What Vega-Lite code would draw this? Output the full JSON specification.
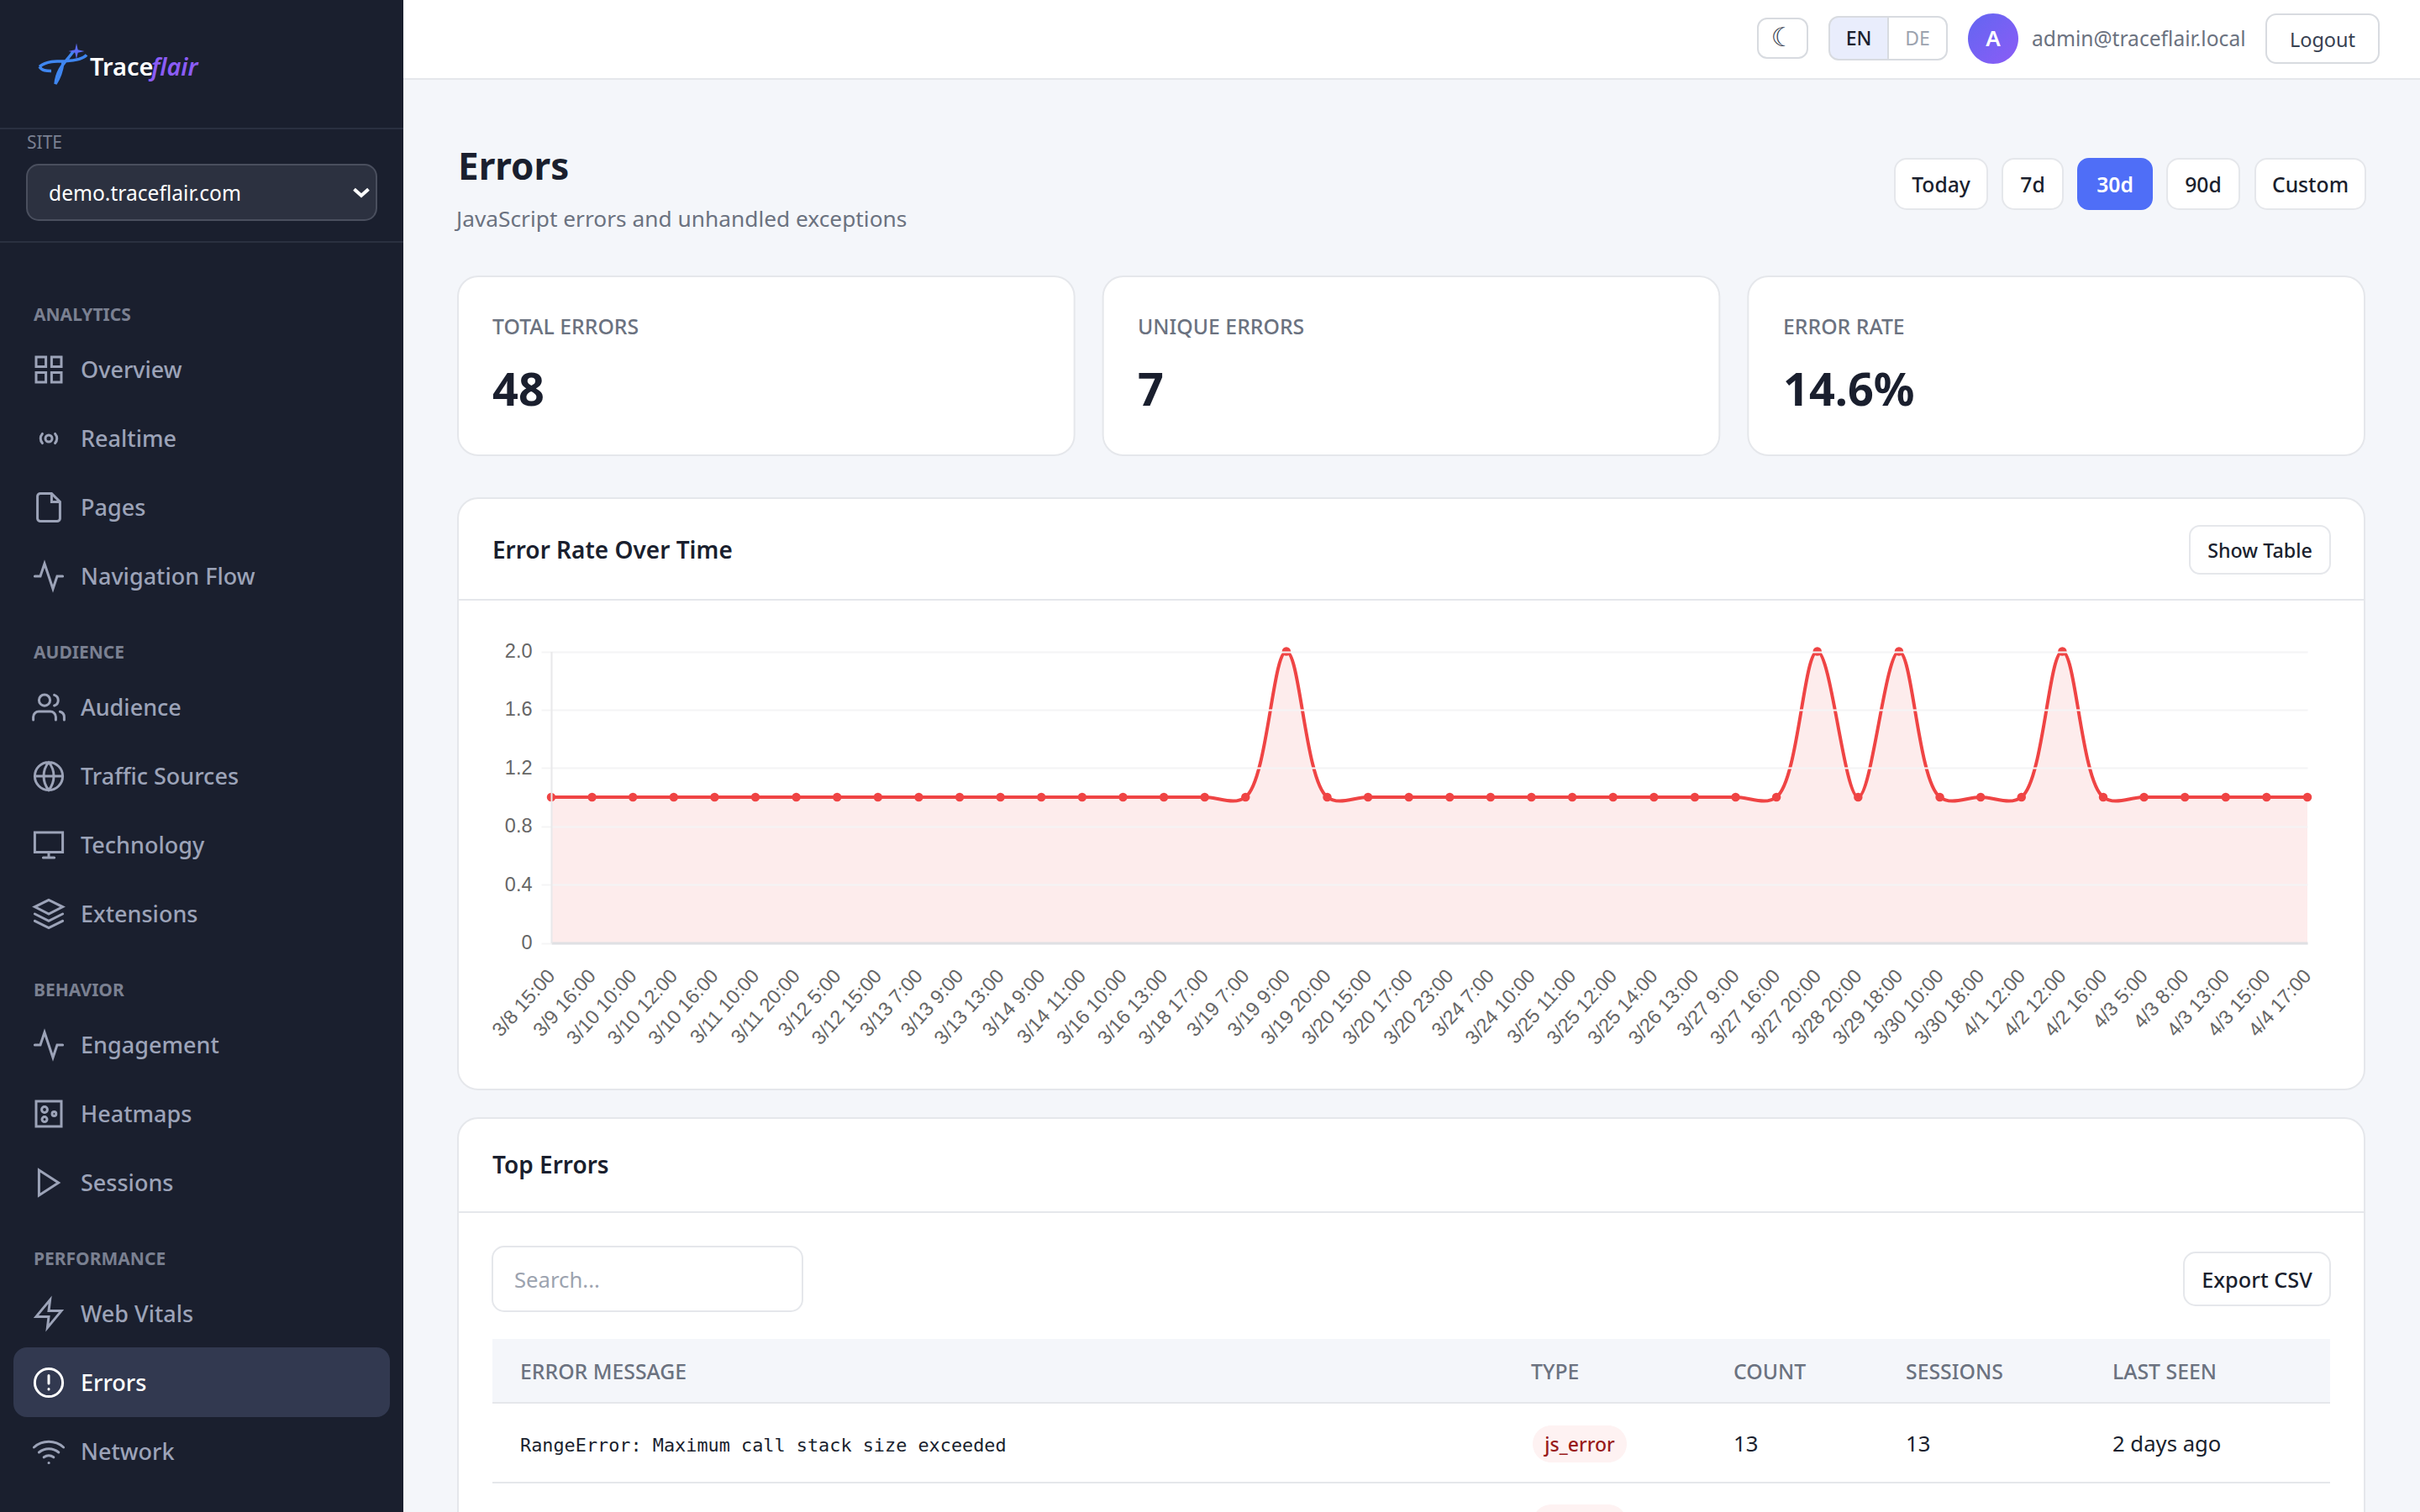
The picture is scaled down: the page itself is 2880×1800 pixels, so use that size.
{
  "$schema": "https://vega.github.io/schema/vega-lite/v6.json",
  "width": 2880,
  "height": 1800,
  "autosize": {"type": "fit", "contains": "padding"},
  "padding": 0,
  "background": "#f4f6fa",
  "config": {"view": {"stroke": null}, "font": "Noto Sans"},
  "datasets": {
    "menu": [
      {"section": "analytics", "menu": "Overview"},
      {"section": "analytics", "menu": "Realtime"},
      {"section": "analytics", "menu": "Pages"},
      {"section": "analytics", "menu": "Navigation Flow"},
      {"section": "audience", "menu": "Audience"},
      {"section": "audience", "menu": "Traffic Sources"},
      {"section": "audience", "menu": "Technology"},
      {"section": "audience", "menu": "Extensions"},
      {"section": "behavior", "menu": "Engagement"},
      {"section": "behavior", "menu": "Heatmaps"},
      {"section": "behavior", "menu": "Sessions"},
      {"section": "performance", "menu": "Web Vitals"},
      {"section": "performance", "menu": "Errors"},
      {"section": "performance", "menu": "Network"}
    ],
    "series": [
      {"time": "3/8 15:00", "errors": 1}, {"time": "3/9 16:00", "errors": 1}, {"time": "3/10 10:00", "errors": 1},
      {"time": "3/10 12:00", "errors": 1}, {"time": "3/10 16:00", "errors": 1}, {"time": "3/11 10:00", "errors": 1},
      {"time": "3/11 20:00", "errors": 1}, {"time": "3/12 5:00", "errors": 1}, {"time": "3/12 15:00", "errors": 1},
      {"time": "3/13 7:00", "errors": 1}, {"time": "3/13 9:00", "errors": 1}, {"time": "3/13 13:00", "errors": 1},
      {"time": "3/14 9:00", "errors": 1}, {"time": "3/14 11:00", "errors": 1}, {"time": "3/16 10:00", "errors": 1},
      {"time": "3/16 13:00", "errors": 1}, {"time": "3/18 17:00", "errors": 1}, {"time": "3/19 7:00", "errors": 1},
      {"time": "3/19 9:00", "errors": 2}, {"time": "3/19 20:00", "errors": 1}, {"time": "3/20 15:00", "errors": 1},
      {"time": "3/20 17:00", "errors": 1}, {"time": "3/20 23:00", "errors": 1}, {"time": "3/24 7:00", "errors": 1},
      {"time": "3/24 10:00", "errors": 1}, {"time": "3/25 11:00", "errors": 1}, {"time": "3/25 12:00", "errors": 1},
      {"time": "3/25 14:00", "errors": 1}, {"time": "3/26 13:00", "errors": 1}, {"time": "3/27 9:00", "errors": 1},
      {"time": "3/27 16:00", "errors": 1}, {"time": "3/27 20:00", "errors": 2}, {"time": "3/28 20:00", "errors": 1},
      {"time": "3/29 18:00", "errors": 2}, {"time": "3/30 10:00", "errors": 1}, {"time": "3/30 18:00", "errors": 1},
      {"time": "4/1 12:00", "errors": 1}, {"time": "4/2 12:00", "errors": 2}, {"time": "4/2 16:00", "errors": 1},
      {"time": "4/3 5:00", "errors": 1}, {"time": "4/3 8:00", "errors": 1}, {"time": "4/3 13:00", "errors": 1},
      {"time": "4/3 15:00", "errors": 1}, {"time": "4/4 17:00", "errors": 1}
    ]
  },
  "resolve": {"scale": {"x": "independent", "y": "independent", "shape": "independent"}},
  "layer": [
    {"data": {"values": [{"k": "sidebar"}]}, "mark": {"type": "rect", "fill": "#1a1f2e"},
      "encoding": {"x": {"field": "k", "type": "nominal", "axis": null, "scale": {"type": "band", "padding": 0, "range": [0, 480]}}, "y": {"field": "k", "type": "nominal", "axis": null, "scale": {"type": "band", "padding": 0, "range": [0, 1800]}}}},
    {"data": {"values": [{"k": "a"}]}, "mark": {"type": "rect", "fill": "#2a3040"},
      "encoding": {"x": {"field": "k", "type": "nominal", "axis": null, "scale": {"type": "band", "padding": 0, "range": [0, 480]}}, "y": {"field": "k", "type": "nominal", "axis": null, "scale": {"type": "band", "padding": 0, "range": [152, 154]}}}},
    {"data": {"values": [{"k": "b"}]}, "mark": {"type": "rect", "fill": "#2a3040"},
      "encoding": {"x": {"field": "k", "type": "nominal", "axis": null, "scale": {"type": "band", "padding": 0, "range": [0, 480]}}, "y": {"field": "k", "type": "nominal", "axis": null, "scale": {"type": "band", "padding": 0, "range": [287, 289]}}}},
    {"data": {"values": [{"k": "active"}]}, "mark": {"type": "rect", "fill": "#323950", "cornerRadius": 16},
      "encoding": {"x": {"field": "k", "type": "nominal", "axis": null, "scale": {"type": "band", "padding": 0, "range": [16, 464]}}, "y": {"field": "k", "type": "nominal", "axis": null, "scale": {"type": "band", "padding": 0, "range": [1604, 1687]}}}},
    {"data": {"values": [{"k": "logo"}]}, "mark": {"type": "point", "filled": false, "size": 3136, "strokeWidth": 3.5, "opacity": 1, "color": "#3f86f0", "shape": "M-1 .12C-.7-.12-.3-.12 .1-.12 .5-.14 .85-.2 1-.38M-1 .12C-.9 .3-.7 .3-.5 .3M.45-.55C.15-.1-.25 .15-.32 .85-.15 .6-.05 .3 0-.05"},
      "encoding": {"x": {"field": "k", "type": "nominal", "axis": null, "scale": {"type": "point", "range": [75, 75]}}, "y": {"field": "k", "type": "nominal", "axis": null, "scale": {"type": "point", "range": [76, 76]}}}},
    {"data": {"values": [{"k": "star"}]}, "mark": {"type": "point", "filled": true, "size": 360, "opacity": 1, "color": "#5b6cf5", "shape": "M0-1L.18-.18L1 0L.18 .18L0 1L-.18 .18L-1 0L-.18-.18Z"},
      "encoding": {"x": {"field": "k", "type": "nominal", "axis": null, "scale": {"type": "point", "range": [91, 91]}}, "y": {"field": "k", "type": "nominal", "axis": null, "scale": {"type": "point", "range": [61, 61]}}}},
    {"data": {"values": [{"t": "Trace"}]}, "mark": {"type": "text", "align": "left", "fontSize": 29, "fontWeight": 600, "color": "#ffffff"},
      "encoding": {"text": {"field": "t"}, "x": {"field": "t", "type": "nominal", "axis": null, "scale": {"type": "point", "range": [107, 107]}}, "y": {"field": "t", "type": "nominal", "axis": null, "scale": {"type": "point", "range": [81, 81]}}}},
    {"data": {"values": [{"t": "flair"}]}, "mark": {"type": "text", "align": "left", "fontSize": 29, "fontWeight": 600, "fontStyle": "italic", "color": "#8b5cf6"},
      "encoding": {"text": {"field": "t"}, "x": {"field": "t", "type": "nominal", "axis": null, "scale": {"type": "point", "range": [180, 180]}}, "y": {"field": "t", "type": "nominal", "axis": null, "scale": {"type": "point", "range": [81, 81]}}}},
    {"data": {"values": [{"t": "SITE"}]}, "mark": {"type": "text", "align": "left", "fontSize": 21, "color": "#7a8091"},
      "encoding": {"text": {"field": "t"}, "x": {"field": "t", "type": "nominal", "axis": null, "scale": {"type": "point", "range": [32, 32]}}, "y": {"field": "t", "type": "nominal", "axis": null, "scale": {"type": "point", "range": [171, 171]}}}},
    {"data": {"values": [{"k": "select"}]}, "mark": {"type": "rect", "fill": "#2c3140", "stroke": "#4a4f5e", "strokeWidth": 2, "cornerRadius": 14},
      "encoding": {"x": {"field": "k", "type": "nominal", "axis": null, "scale": {"type": "band", "padding": 0, "range": [32, 448]}}, "y": {"field": "k", "type": "nominal", "axis": null, "scale": {"type": "band", "padding": 0, "range": [196, 262]}}}},
    {"data": {"values": [{"t": "demo.traceflair.com"}]}, "mark": {"type": "text", "align": "left", "fontSize": 24.6, "color": "#ffffff"},
      "encoding": {"text": {"field": "t"}, "x": {"field": "t", "type": "nominal", "axis": null, "scale": {"type": "point", "range": [58, 58]}}, "y": {"field": "t", "type": "nominal", "axis": null, "scale": {"type": "point", "range": [232, 232]}}}},
    {"data": {"values": [{"k": "chevron"}]}, "mark": {"type": "point", "filled": false, "size": 289, "strokeWidth": 4, "opacity": 1, "color": "#ffffff", "shape": "M-1-.45L0 .45L1-.45"},
      "encoding": {"x": {"field": "k", "type": "nominal", "axis": null, "scale": {"type": "point", "range": [430, 430]}}, "y": {"field": "k", "type": "nominal", "axis": null, "scale": {"type": "point", "range": [229, 229]}}}},
    {"data": {"values": [{"t": "ANALYTICS"}]}, "mark": {"type": "text", "align": "left", "fontSize": 21, "fontWeight": 700, "color": "#7a8091"},
      "encoding": {"text": {"field": "t"}, "x": {"field": "t", "type": "nominal", "axis": null, "scale": {"type": "point", "range": [40, 40]}}, "y": {"field": "t", "type": "nominal", "axis": null, "scale": {"type": "point", "range": [376, 376]}}}},
    {"data": {"values": [{"t": "AUDIENCE"}]}, "mark": {"type": "text", "align": "left", "fontSize": 21, "fontWeight": 700, "color": "#7a8091"},
      "encoding": {"text": {"field": "t"}, "x": {"field": "t", "type": "nominal", "axis": null, "scale": {"type": "point", "range": [40, 40]}}, "y": {"field": "t", "type": "nominal", "axis": null, "scale": {"type": "point", "range": [778, 778]}}}},
    {"data": {"values": [{"t": "BEHAVIOR"}]}, "mark": {"type": "text", "align": "left", "fontSize": 21, "fontWeight": 700, "color": "#7a8091"},
      "encoding": {"text": {"field": "t"}, "x": {"field": "t", "type": "nominal", "axis": null, "scale": {"type": "point", "range": [40, 40]}}, "y": {"field": "t", "type": "nominal", "axis": null, "scale": {"type": "point", "range": [1180, 1180]}}}},
    {"data": {"values": [{"t": "PERFORMANCE"}]}, "mark": {"type": "text", "align": "left", "fontSize": 21, "fontWeight": 700, "color": "#7a8091"},
      "encoding": {"text": {"field": "t"}, "x": {"field": "t", "type": "nominal", "axis": null, "scale": {"type": "point", "range": [40, 40]}}, "y": {"field": "t", "type": "nominal", "axis": null, "scale": {"type": "point", "range": [1500, 1500]}}}},
    {"data": {"name": "menu"}, "transform": [{"filter": "datum.section === 'analytics'"}], "mark": {"type": "text", "align": "left", "fontSize": 27, "fontWeight": 500, "color": "#9ca3b8"},
      "encoding": {"text": {"field": "menu"}, "x": {"field": "menu", "type": "nominal", "sort": null, "axis": null, "scale": {"type": "point", "range": [96, 96]}}, "y": {"field": "menu", "type": "nominal", "sort": null, "axis": null, "scale": {"type": "point", "padding": 0, "range": [442, 688]}}}},
    {"data": {"name": "menu"}, "transform": [{"filter": "datum.section === 'analytics'"}], "mark": {"type": "point", "filled": false, "size": 1600, "strokeWidth": 3, "strokeCap": "round", "opacity": 1, "color": "#9ca3b8"},
      "encoding": {"shape": {"field": "menu", "type": "nominal", "legend": null, "scale": {"domain": ["Overview", "Realtime", "Pages", "Navigation Flow"], "range": ["M-.75-.75H-.17V-.17H-.75ZM.17-.75H.75V-.17H.17ZM.17 .17H.75V.75H.17ZM-.75 .17H-.17V.75H-.75Z", "M-.2 0A.2 .2 0 1 0 .2 0A.2 .2 0 1 0-.2 0M-.38-.28A.42 .42 0 0 0-.38 .28M.38-.28A.42 .42 0 0 1 .38 .28", "M-.5-.83H.17L.67-.33V.67A.17 .17 0 0 1 .5 .83H-.5A.17 .17 0 0 1-.67 .67V-.67A.17 .17 0 0 1-.5-.83ZM.17-.83V-.33H.67", "M.83 0H.5L.25 .75L-.25-.75L-.5 0H-.83"]}},
        "x": {"field": "menu", "type": "nominal", "sort": null, "axis": null, "scale": {"type": "point", "range": [58, 58]}}, "y": {"field": "menu", "type": "nominal", "sort": null, "axis": null, "scale": {"type": "point", "padding": 0, "range": [440, 686]}}}},
    {"data": {"name": "menu"}, "transform": [{"filter": "datum.section === 'audience'"}], "mark": {"type": "text", "align": "left", "fontSize": 27, "fontWeight": 500, "color": "#9ca3b8"},
      "encoding": {"text": {"field": "menu"}, "x": {"field": "menu", "type": "nominal", "sort": null, "axis": null, "scale": {"type": "point", "range": [96, 96]}}, "y": {"field": "menu", "type": "nominal", "sort": null, "axis": null, "scale": {"type": "point", "padding": 0, "range": [844, 1090]}}}},
    {"data": {"name": "menu"}, "transform": [{"filter": "datum.section === 'audience'"}], "mark": {"type": "point", "filled": false, "size": 1600, "strokeWidth": 3, "strokeCap": "round", "opacity": 1, "color": "#9ca3b8"},
      "encoding": {"shape": {"field": "menu", "type": "nominal", "legend": null, "scale": {"domain": ["Audience", "Traffic Sources", "Technology", "Extensions"], "range": ["M.42 .75V.58A.33 .33 0 0 0 .08 .25H-.58A.33 .33 0 0 0-.92 .58V.75M-.58-.42A.33 .33 0 1 0 .08-.42A.33 .33 0 1 0-.58-.42M.92 .75V.58A.33 .33 0 0 0 .67 .26M.33-.73A.33 .33 0 0 1 .33-.1", "M-.83 0A.83 .83 0 1 0 .83 0A.83 .83 0 1 0-.83 0M-.83 0H.83M0-.83A1.3 1.3 0 0 1 0 .83A1.3 1.3 0 0 1 0-.83", "M-.83-.75H.83V.42H-.83ZM-.33 .75H.33M0 .42V.75", "M0-.83L-.83-.42L0 0L.83-.42ZM-.83 .42L0 .83L.83 .42M-.83 0L0 .42L.83 0"]}},
        "x": {"field": "menu", "type": "nominal", "sort": null, "axis": null, "scale": {"type": "point", "range": [58, 58]}}, "y": {"field": "menu", "type": "nominal", "sort": null, "axis": null, "scale": {"type": "point", "padding": 0, "range": [842, 1088]}}}},
    {"data": {"name": "menu"}, "transform": [{"filter": "datum.section === 'behavior'"}], "mark": {"type": "text", "align": "left", "fontSize": 27, "fontWeight": 500, "color": "#9ca3b8"},
      "encoding": {"text": {"field": "menu"}, "x": {"field": "menu", "type": "nominal", "sort": null, "axis": null, "scale": {"type": "point", "range": [96, 96]}}, "y": {"field": "menu", "type": "nominal", "sort": null, "axis": null, "scale": {"type": "point", "padding": 0, "range": [1246, 1410]}}}},
    {"data": {"name": "menu"}, "transform": [{"filter": "datum.section === 'behavior'"}], "mark": {"type": "point", "filled": false, "size": 1600, "strokeWidth": 3, "strokeCap": "round", "opacity": 1, "color": "#9ca3b8"},
      "encoding": {"shape": {"field": "menu", "type": "nominal", "legend": null, "scale": {"domain": ["Engagement", "Heatmaps", "Sessions"], "range": ["M.83 0H.5L.25 .75L-.25-.75L-.5 0H-.83", "M-.75-.75H.75V.75H-.75ZM-.42-.25A.17 .17 0 1 0-.08-.25A.17 .17 0 1 0-.42-.25M.2 0A.12 .12 0 1 0 .44 0A.12 .12 0 1 0 .2 0M-.4 .33A.15 .15 0 1 0-.1 .33A.15 .15 0 1 0-.4 .33", "M-.58-.75L.58 0L-.58 .75Z"]}},
        "x": {"field": "menu", "type": "nominal", "sort": null, "axis": null, "scale": {"type": "point", "range": [58, 58]}}, "y": {"field": "menu", "type": "nominal", "sort": null, "axis": null, "scale": {"type": "point", "padding": 0, "range": [1244, 1408]}}}},
    {"data": {"name": "menu"}, "transform": [{"filter": "datum.section === 'performance'"}], "mark": {"type": "text", "align": "left", "fontSize": 27, "fontWeight": 500},
      "encoding": {"text": {"field": "menu"}, "color": {"condition": {"test": "datum.menu === 'Errors'", "value": "#ffffff"}, "value": "#9ca3b8"}, "x": {"field": "menu", "type": "nominal", "sort": null, "axis": null, "scale": {"type": "point", "range": [96, 96]}}, "y": {"field": "menu", "type": "nominal", "sort": null, "axis": null, "scale": {"type": "point", "padding": 0, "range": [1566, 1730]}}}},
    {"data": {"name": "menu"}, "transform": [{"filter": "datum.section === 'performance'"}], "mark": {"type": "point", "filled": false, "size": 1600, "strokeWidth": 3, "strokeCap": "round", "opacity": 1},
      "encoding": {"color": {"condition": {"test": "datum.menu === 'Errors'", "value": "#ffffff"}, "value": "#9ca3b8"}, "shape": {"field": "menu", "type": "nominal", "legend": null, "scale": {"domain": ["Web Vitals", "Errors", "Network"], "range": ["M.08-.83L-.75 .17H0L-.08 .83L.75-.17H0Z", "M-.83 0A.83 .83 0 1 0 .83 0A.83 .83 0 1 0-.83 0M0-.42V.05M0 .38V.4", "M-.58 .05A.92 .92 0 0 1 .59 .05M-.88-.25A1.33 1.33 0 0 1 .88-.25M-.29 .34A.5 .5 0 0 1 .29 .34M0 .67H.01"]}},
        "x": {"field": "menu", "type": "nominal", "sort": null, "axis": null, "scale": {"type": "point", "range": [58, 58]}}, "y": {"field": "menu", "type": "nominal", "sort": null, "axis": null, "scale": {"type": "point", "padding": 0, "range": [1564, 1728]}}}},

    {"data": {"values": [{"k": "topbar"}]}, "mark": {"type": "rect", "fill": "#ffffff"},
      "encoding": {"x": {"field": "k", "type": "nominal", "axis": null, "scale": {"type": "band", "padding": 0, "range": [480, 2880]}}, "y": {"field": "k", "type": "nominal", "axis": null, "scale": {"type": "band", "padding": 0, "range": [0, 93]}}}},
    {"data": {"values": [{"k": "rule"}]}, "mark": {"type": "rect", "fill": "#e5e7eb"},
      "encoding": {"x": {"field": "k", "type": "nominal", "axis": null, "scale": {"type": "band", "padding": 0, "range": [480, 2880]}}, "y": {"field": "k", "type": "nominal", "axis": null, "scale": {"type": "band", "padding": 0, "range": [93, 95]}}}},
    {"data": {"values": [{"t": "☾"}]},
      "encoding": {"x": {"field": "t", "type": "nominal", "axis": null, "scale": {"type": "band", "padding": 0, "range": [2092, 2151]}}, "y": {"field": "t", "type": "nominal", "axis": null, "scale": {"type": "band", "padding": 0, "range": [22, 69]}}},
      "layer": [{"mark": {"type": "rect", "fill": "#ffffff", "stroke": "#d8dbe0", "strokeWidth": 2, "cornerRadius": 11}}, {"mark": {"type": "text", "font": "DejaVu Sans", "fontSize": 31, "color": "#374151"}, "encoding": {"text": {"field": "t"}}}]},
    {"data": {"values": [{"t": "EN"}]},
      "encoding": {"x": {"field": "t", "type": "nominal", "axis": null, "scale": {"type": "band", "padding": 0, "range": [2177, 2247]}}, "y": {"field": "t", "type": "nominal", "axis": null, "scale": {"type": "band", "padding": 0, "range": [20, 71]}}},
      "layer": [{"mark": {"type": "rect", "fill": "#e9edfc", "stroke": "#d8dbe0", "strokeWidth": 2, "cornerRadius": 0, "cornerRadiusTopLeft": 11, "cornerRadiusBottomLeft": 11}}, {"mark": {"type": "text", "fontSize": 23, "fontWeight": 500, "dy": 1, "color": "#1a1f2e"}, "encoding": {"text": {"field": "t"}}}]},
    {"data": {"values": [{"t": "DE"}]},
      "encoding": {"x": {"field": "t", "type": "nominal", "axis": null, "scale": {"type": "band", "padding": 0, "range": [2247, 2317]}}, "y": {"field": "t", "type": "nominal", "axis": null, "scale": {"type": "band", "padding": 0, "range": [20, 71]}}},
      "layer": [{"mark": {"type": "rect", "fill": "#ffffff", "stroke": "#d8dbe0", "strokeWidth": 2, "cornerRadius": 0, "cornerRadiusTopRight": 11, "cornerRadiusBottomRight": 11}}, {"mark": {"type": "text", "fontSize": 23, "dy": 1, "color": "#9ca3af"}, "encoding": {"text": {"field": "t"}}}]},
    {"data": {"values": [{"t": "A"}]},
      "encoding": {"x": {"field": "t", "type": "nominal", "axis": null, "scale": {"type": "band", "padding": 0, "range": [2342, 2402]}}, "y": {"field": "t", "type": "nominal", "axis": null, "scale": {"type": "band", "padding": 0, "range": [16, 76]}}},
      "layer": [{"mark": {"type": "rect", "cornerRadius": 30, "fill": {"gradient": "linear", "x1": 0, "y1": 0, "x2": 1, "y2": 1, "stops": [{"offset": 0, "color": "#6366f1"}, {"offset": 1, "color": "#8b5cf6"}]}}}, {"mark": {"type": "text", "fontSize": 26, "fontWeight": 600, "dy": 1, "color": "#ffffff"}, "encoding": {"text": {"field": "t"}}}]},
    {"data": {"values": [{"t": "admin@traceflair.local"}]}, "mark": {"type": "text", "align": "left", "fontSize": 24.6, "color": "#6b7280"},
      "encoding": {"text": {"field": "t"}, "x": {"field": "t", "type": "nominal", "axis": null, "scale": {"type": "point", "range": [2418, 2418]}}, "y": {"field": "t", "type": "nominal", "axis": null, "scale": {"type": "point", "range": [48, 48]}}}},
    {"data": {"values": [{"t": "Logout"}]},
      "encoding": {"x": {"field": "t", "type": "nominal", "axis": null, "scale": {"type": "band", "padding": 0, "range": [2697, 2831]}}, "y": {"field": "t", "type": "nominal", "axis": null, "scale": {"type": "band", "padding": 0, "range": [17, 75]}}},
      "layer": [{"mark": {"type": "rect", "fill": "#ffffff", "stroke": "#d8dbe0", "strokeWidth": 2, "cornerRadius": 12}}, {"mark": {"type": "text", "fontSize": 23.5, "dy": 3, "color": "#374151"}, "encoding": {"text": {"field": "t"}}}]},

    {"data": {"values": [{"t": "Errors"}]}, "mark": {"type": "text", "align": "left", "fontSize": 44, "fontWeight": 700, "color": "#1a1f2e"},
      "encoding": {"text": {"field": "t"}, "x": {"field": "t", "type": "nominal", "axis": null, "scale": {"type": "point", "range": [545, 545]}}, "y": {"field": "t", "type": "nominal", "axis": null, "scale": {"type": "point", "range": [201, 201]}}}},
    {"data": {"values": [{"t": "JavaScript errors and unhandled exceptions"}]}, "mark": {"type": "text", "align": "left", "fontSize": 26.3, "color": "#6b7280"},
      "encoding": {"text": {"field": "t"}, "x": {"field": "t", "type": "nominal", "axis": null, "scale": {"type": "point", "range": [543, 543]}}, "y": {"field": "t", "type": "nominal", "axis": null, "scale": {"type": "point", "range": [262, 262]}}}},
    {"data": {"values": [{"t": "Today"}]},
      "encoding": {"x": {"field": "t", "type": "nominal", "axis": null, "scale": {"type": "band", "padding": 0, "range": [2255, 2365]}}, "y": {"field": "t", "type": "nominal", "axis": null, "scale": {"type": "band", "padding": 0, "range": [189, 249]}}},
      "layer": [{"mark": {"type": "rect", "fill": "#ffffff", "stroke": "#e5e7eb", "strokeWidth": 2, "cornerRadius": 14}}, {"mark": {"type": "text", "fontSize": 24.7, "fontWeight": 500, "dy": 3, "color": "#1a1f2e"}, "encoding": {"text": {"field": "t"}}}]},
    {"data": {"values": [{"t": "7d"}]},
      "encoding": {"x": {"field": "t", "type": "nominal", "axis": null, "scale": {"type": "band", "padding": 0, "range": [2383, 2455]}}, "y": {"field": "t", "type": "nominal", "axis": null, "scale": {"type": "band", "padding": 0, "range": [189, 249]}}},
      "layer": [{"mark": {"type": "rect", "fill": "#ffffff", "stroke": "#e5e7eb", "strokeWidth": 2, "cornerRadius": 14}}, {"mark": {"type": "text", "fontSize": 24.7, "fontWeight": 500, "dy": 3, "color": "#1a1f2e"}, "encoding": {"text": {"field": "t"}}}]},
    {"data": {"values": [{"t": "30d"}]},
      "encoding": {"x": {"field": "t", "type": "nominal", "axis": null, "scale": {"type": "band", "padding": 0, "range": [2472, 2562]}}, "y": {"field": "t", "type": "nominal", "axis": null, "scale": {"type": "band", "padding": 0, "range": [188, 250]}}},
      "layer": [{"mark": {"type": "rect", "fill": "#4f6ef7", "cornerRadius": 14}}, {"mark": {"type": "text", "fontSize": 24.7, "fontWeight": 600, "dy": 3, "color": "#ffffff"}, "encoding": {"text": {"field": "t"}}}]},
    {"data": {"values": [{"t": "90d"}]},
      "encoding": {"x": {"field": "t", "type": "nominal", "axis": null, "scale": {"type": "band", "padding": 0, "range": [2579, 2665]}}, "y": {"field": "t", "type": "nominal", "axis": null, "scale": {"type": "band", "padding": 0, "range": [189, 249]}}},
      "layer": [{"mark": {"type": "rect", "fill": "#ffffff", "stroke": "#e5e7eb", "strokeWidth": 2, "cornerRadius": 14}}, {"mark": {"type": "text", "fontSize": 24.7, "fontWeight": 500, "dy": 3, "color": "#1a1f2e"}, "encoding": {"text": {"field": "t"}}}]},
    {"data": {"values": [{"t": "Custom"}]},
      "encoding": {"x": {"field": "t", "type": "nominal", "axis": null, "scale": {"type": "band", "padding": 0, "range": [2684, 2815]}}, "y": {"field": "t", "type": "nominal", "axis": null, "scale": {"type": "band", "padding": 0, "range": [189, 249]}}},
      "layer": [{"mark": {"type": "rect", "fill": "#ffffff", "stroke": "#e5e7eb", "strokeWidth": 2, "cornerRadius": 14}}, {"mark": {"type": "text", "fontSize": 24.7, "fontWeight": 500, "dy": 3, "color": "#1a1f2e"}, "encoding": {"text": {"field": "t"}}}]},

    {"data": {"values": [{"label": "TOTAL ERRORS", "value": "48"}, {"label": "UNIQUE ERRORS", "value": "7"}, {"label": "ERROR RATE", "value": "14.6%"}]},
      "mark": {"type": "rect", "fill": "#ffffff", "stroke": "#e5e7eb", "strokeWidth": 2, "cornerRadius": 24},
      "encoding": {"x": {"field": "label", "type": "nominal", "sort": null, "axis": null, "scale": {"type": "band", "paddingInner": 0.0443, "paddingOuter": 0, "range": [545, 2814]}}, "y": {"datum": "card", "type": "nominal", "axis": null, "scale": {"type": "band", "padding": 0, "range": [329, 542]}}}},
    {"data": {"values": [{"label": "TOTAL ERRORS", "value": "48"}, {"label": "UNIQUE ERRORS", "value": "7"}, {"label": "ERROR RATE", "value": "14.6%"}]},
      "mark": {"type": "text", "align": "left", "fontSize": 24.8, "fontWeight": 500, "color": "#6b7280"},
      "encoding": {"text": {"field": "label"}, "x": {"field": "label", "type": "nominal", "sort": null, "axis": null, "scale": {"type": "point", "padding": 0, "range": [586, 2122]}}, "y": {"field": "label", "type": "nominal", "axis": null, "scale": {"type": "point", "range": [391, 391]}}}},
    {"data": {"values": [{"label": "TOTAL ERRORS", "value": "48"}, {"label": "UNIQUE ERRORS", "value": "7"}, {"label": "ERROR RATE", "value": "14.6%"}]},
      "mark": {"type": "text", "align": "left", "fontSize": 54, "fontWeight": 700, "color": "#1a1f2e"},
      "encoding": {"text": {"field": "value"}, "x": {"field": "label", "type": "nominal", "sort": null, "axis": null, "scale": {"type": "point", "padding": 0, "range": [586, 2122]}}, "y": {"field": "label", "type": "nominal", "axis": null, "scale": {"type": "point", "range": [467, 467]}}}},

    {"data": {"values": [{"k": "chart card"}]}, "mark": {"type": "rect", "fill": "#ffffff", "stroke": "#e5e7eb", "strokeWidth": 2, "cornerRadius": 24},
      "encoding": {"x": {"field": "k", "type": "nominal", "axis": null, "scale": {"type": "band", "padding": 0, "range": [545, 2814]}}, "y": {"field": "k", "type": "nominal", "axis": null, "scale": {"type": "band", "padding": 0, "range": [593, 1297]}}}},
    {"data": {"values": [{"k": "chart rule"}]}, "mark": {"type": "rect", "fill": "#e5e7eb"},
      "encoding": {"x": {"field": "k", "type": "nominal", "axis": null, "scale": {"type": "band", "padding": 0, "range": [545, 2814]}}, "y": {"field": "k", "type": "nominal", "axis": null, "scale": {"type": "band", "padding": 0, "range": [713, 715]}}}},
    {"data": {"values": [{"t": "Error Rate Over Time"}]}, "mark": {"type": "text", "align": "left", "fontSize": 28, "fontWeight": 600, "color": "#1a1f2e"},
      "encoding": {"text": {"field": "t"}, "x": {"field": "t", "type": "nominal", "axis": null, "scale": {"type": "point", "range": [586, 586]}}, "y": {"field": "t", "type": "nominal", "axis": null, "scale": {"type": "point", "range": [657, 657]}}}},
    {"data": {"values": [{"t": "Show Table"}]},
      "encoding": {"x": {"field": "t", "type": "nominal", "axis": null, "scale": {"type": "band", "padding": 0, "range": [2606, 2773]}}, "y": {"field": "t", "type": "nominal", "axis": null, "scale": {"type": "band", "padding": 0, "range": [626, 683]}}},
      "layer": [{"mark": {"type": "rect", "fill": "#ffffff", "stroke": "#e5e7eb", "strokeWidth": 2, "cornerRadius": 12}}, {"mark": {"type": "text", "fontSize": 23.3, "fontWeight": 500, "dy": 2, "color": "#1a1f2e"}, "encoding": {"text": {"field": "t"}}}]},

    {"data": {"name": "series"},
      "encoding": {
        "x": {"field": "time", "type": "ordinal", "sort": null, "title": null,
          "scale": {"type": "point", "padding": 0, "range": [656, 2746]},
          "axis": {"orient": "bottom", "offset": -677.5, "zindex": 1, "grid": false, "ticks": false, "domainColor": "#dfe0e3", "domainWidth": 3, "labelFont": "Liberation Sans", "labelFontSize": 23.5, "labelColor": "#666666", "labelAngle": -48, "labelAlign": "right", "labelBaseline": "middle", "labelPadding": 35, "labelOverlap": false, "labelBound": false}},
        "y": {"field": "errors", "type": "quantitative", "title": null,
          "scale": {"domain": [0, 2], "nice": false, "range": [1122.5, 775.5]},
          "axis": {"orient": "left", "offset": -656, "zindex": 1, "values": [0, 0.4, 0.8, 1.2, 1.6, 2], "labelExpr": "datum.value === 0 ? '0' : format(datum.value, '.1f')", "grid": true, "gridColor": "#f4f4f5", "gridWidth": 2, "tickColor": "#f4f4f5", "tickSize": 12, "tickWidth": 2, "domainColor": "#e8e8ea", "domainWidth": 2, "labelFont": "Liberation Sans", "labelFontSize": 23.5, "labelColor": "#666666", "labelPadding": 11}}
      },
      "layer": [
        {"mark": {"type": "area", "interpolate": "catmull-rom", "tension": 0.5, "color": "#ef4444", "opacity": 0.1}},
        {"mark": {"type": "line", "interpolate": "catmull-rom", "tension": 0.5, "color": "#ef4444", "strokeWidth": 4}},
        {"mark": {"type": "point", "filled": true, "size": 110, "opacity": 1, "color": "#ef4444"}}
      ]},

    {"data": {"values": [{"k": "table card"}]}, "mark": {"type": "rect", "clip": true, "fill": "#ffffff", "stroke": "#e5e7eb", "strokeWidth": 2, "cornerRadius": 24},
      "encoding": {"x": {"field": "k", "type": "nominal", "axis": null, "scale": {"type": "band", "padding": 0, "range": [545, 2814]}}, "y": {"field": "k", "type": "nominal", "axis": null, "scale": {"type": "band", "padding": 0, "range": [1331, 1900]}}}},
    {"data": {"values": [{"k": "table rule"}]}, "mark": {"type": "rect", "fill": "#e5e7eb"},
      "encoding": {"x": {"field": "k", "type": "nominal", "axis": null, "scale": {"type": "band", "padding": 0, "range": [545, 2814]}}, "y": {"field": "k", "type": "nominal", "axis": null, "scale": {"type": "band", "padding": 0, "range": [1442, 1444]}}}},
    {"data": {"values": [{"t": "Top Errors"}]}, "mark": {"type": "text", "align": "left", "fontSize": 28, "fontWeight": 600, "color": "#1a1f2e"},
      "encoding": {"text": {"field": "t"}, "x": {"field": "t", "type": "nominal", "axis": null, "scale": {"type": "point", "range": [586, 586]}}, "y": {"field": "t", "type": "nominal", "axis": null, "scale": {"type": "point", "range": [1389, 1389]}}}},
    {"data": {"values": [{"k": "search"}]}, "mark": {"type": "rect", "fill": "#ffffff", "stroke": "#e5e7eb", "strokeWidth": 2, "cornerRadius": 14},
      "encoding": {"x": {"field": "k", "type": "nominal", "axis": null, "scale": {"type": "band", "padding": 0, "range": [586, 955]}}, "y": {"field": "k", "type": "nominal", "axis": null, "scale": {"type": "band", "padding": 0, "range": [1484, 1561]}}}},
    {"data": {"values": [{"t": "Search..."}]}, "mark": {"type": "text", "align": "left", "fontSize": 25.7, "color": "#9ca3af"},
      "encoding": {"text": {"field": "t"}, "x": {"field": "t", "type": "nominal", "axis": null, "scale": {"type": "point", "range": [612, 612]}}, "y": {"field": "t", "type": "nominal", "axis": null, "scale": {"type": "point", "range": [1525, 1525]}}}},
    {"data": {"values": [{"t": "Export CSV"}]},
      "encoding": {"x": {"field": "t", "type": "nominal", "axis": null, "scale": {"type": "band", "padding": 0, "range": [2599, 2773]}}, "y": {"field": "t", "type": "nominal", "axis": null, "scale": {"type": "band", "padding": 0, "range": [1491, 1554]}}},
      "layer": [{"mark": {"type": "rect", "fill": "#ffffff", "stroke": "#e5e7eb", "strokeWidth": 2, "cornerRadius": 14}}, {"mark": {"type": "text", "fontSize": 25.3, "fontWeight": 500, "dy": 2, "color": "#1a1f2e"}, "encoding": {"text": {"field": "t"}}}]},
    {"data": {"values": [{"k": "thead"}]}, "mark": {"type": "rect", "fill": "#f4f6fa"},
      "encoding": {"x": {"field": "k", "type": "nominal", "axis": null, "scale": {"type": "band", "padding": 0, "range": [586, 2773]}}, "y": {"field": "k", "type": "nominal", "axis": null, "scale": {"type": "band", "padding": 0, "range": [1594, 1669]}}}},
    {"data": {"values": [{"k": "thead rule"}]}, "mark": {"type": "rect", "fill": "#e5e7eb"},
      "encoding": {"x": {"field": "k", "type": "nominal", "axis": null, "scale": {"type": "band", "padding": 0, "range": [586, 2773]}}, "y": {"field": "k", "type": "nominal", "axis": null, "scale": {"type": "band", "padding": 0, "range": [1669, 1671]}}}},
    {"data": {"values": [{"k": "row rule"}]}, "mark": {"type": "rect", "fill": "#e5e7eb"},
      "encoding": {"x": {"field": "k", "type": "nominal", "axis": null, "scale": {"type": "band", "padding": 0, "range": [586, 2773]}}, "y": {"field": "k", "type": "nominal", "axis": null, "scale": {"type": "band", "padding": 0, "range": [1764, 1766]}}}},
    {"data": {"values": [{"t": "ERROR MESSAGE"}]}, "mark": {"type": "text", "align": "left", "fontSize": 24.8, "fontWeight": 500, "color": "#6b7280"},
      "encoding": {"text": {"field": "t"}, "x": {"field": "t", "type": "nominal", "axis": null, "scale": {"type": "point", "range": [619, 619]}}, "y": {"field": "t", "type": "nominal", "axis": null, "scale": {"type": "point", "range": [1635, 1635]}}}},
    {"data": {"values": [{"t": "TYPE"}]}, "mark": {"type": "text", "align": "left", "fontSize": 24.8, "fontWeight": 500, "color": "#6b7280"},
      "encoding": {"text": {"field": "t"}, "x": {"field": "t", "type": "nominal", "axis": null, "scale": {"type": "point", "range": [1822, 1822]}}, "y": {"field": "t", "type": "nominal", "axis": null, "scale": {"type": "point", "range": [1635, 1635]}}}},
    {"data": {"values": [{"t": "COUNT"}]}, "mark": {"type": "text", "align": "left", "fontSize": 24.8, "fontWeight": 500, "color": "#6b7280"},
      "encoding": {"text": {"field": "t"}, "x": {"field": "t", "type": "nominal", "axis": null, "scale": {"type": "point", "range": [2063, 2063]}}, "y": {"field": "t", "type": "nominal", "axis": null, "scale": {"type": "point", "range": [1635, 1635]}}}},
    {"data": {"values": [{"t": "SESSIONS"}]}, "mark": {"type": "text", "align": "left", "fontSize": 24.8, "fontWeight": 500, "color": "#6b7280"},
      "encoding": {"text": {"field": "t"}, "x": {"field": "t", "type": "nominal", "axis": null, "scale": {"type": "point", "range": [2268, 2268]}}, "y": {"field": "t", "type": "nominal", "axis": null, "scale": {"type": "point", "range": [1635, 1635]}}}},
    {"data": {"values": [{"t": "LAST SEEN"}]}, "mark": {"type": "text", "align": "left", "fontSize": 24.8, "fontWeight": 500, "color": "#6b7280"},
      "encoding": {"text": {"field": "t"}, "x": {"field": "t", "type": "nominal", "axis": null, "scale": {"type": "point", "range": [2514, 2514]}}, "y": {"field": "t", "type": "nominal", "axis": null, "scale": {"type": "point", "range": [1635, 1635]}}}},
    {"data": {"values": [{"message": "RangeError: Maximum call stack size exceeded", "type": "js_error", "count": 13, "sessions": 13, "seen": "2 days ago"}]},
      "mark": {"type": "text", "align": "left", "font": "DejaVu Sans Mono", "fontSize": 21.85, "color": "#1a1f2e"},
      "encoding": {"text": {"field": "message"}, "x": {"field": "message", "type": "nominal", "axis": null, "scale": {"type": "point", "range": [619, 619]}}, "y": {"field": "message", "type": "nominal", "axis": null, "scale": {"type": "point", "range": [1721, 1721]}}}},
    {"data": {"values": [{"message": "RangeError: Maximum call stack size exceeded", "type": "js_error", "count": 13, "sessions": 13, "seen": "2 days ago"}]},
      "encoding": {"x": {"field": "type", "type": "nominal", "axis": null, "scale": {"type": "band", "padding": 0, "range": [1824, 1936]}}, "y": {"field": "type", "type": "nominal", "axis": null, "scale": {"type": "band", "padding": 0, "range": [1697, 1741]}}},
      "layer": [{"mark": {"type": "rect", "fill": "#fef2f2", "cornerRadius": 22}}, {"mark": {"type": "text", "fontSize": 23, "fontWeight": 500, "dy": 2, "color": "#991b1b"}, "encoding": {"text": {"field": "type"}}}]},
    {"data": {"values": [{"message": "RangeError: Maximum call stack size exceeded", "type": "js_error", "count": 13, "sessions": 13, "seen": "2 days ago"}]},
      "mark": {"type": "text", "align": "left", "fontSize": 25.7, "color": "#1a1f2e"},
      "encoding": {"text": {"field": "count"}, "x": {"field": "message", "type": "nominal", "axis": null, "scale": {"type": "point", "range": [2063, 2063]}}, "y": {"field": "message", "type": "nominal", "axis": null, "scale": {"type": "point", "range": [1720, 1720]}}}},
    {"data": {"values": [{"message": "RangeError: Maximum call stack size exceeded", "type": "js_error", "count": 13, "sessions": 13, "seen": "2 days ago"}]},
      "mark": {"type": "text", "align": "left", "fontSize": 25.7, "color": "#1a1f2e"},
      "encoding": {"text": {"field": "sessions"}, "x": {"field": "message", "type": "nominal", "axis": null, "scale": {"type": "point", "range": [2268, 2268]}}, "y": {"field": "message", "type": "nominal", "axis": null, "scale": {"type": "point", "range": [1720, 1720]}}}},
    {"data": {"values": [{"message": "RangeError: Maximum call stack size exceeded", "type": "js_error", "count": 13, "sessions": 13, "seen": "2 days ago"}]},
      "mark": {"type": "text", "align": "left", "fontSize": 25.7, "color": "#1a1f2e"},
      "encoding": {"text": {"field": "seen"}, "x": {"field": "message", "type": "nominal", "axis": null, "scale": {"type": "point", "range": [2514, 2514]}}, "y": {"field": "message", "type": "nominal", "axis": null, "scale": {"type": "point", "range": [1720, 1720]}}}},
    {"data": {"values": [{"type": "js_error"}]}, "mark": {"type": "rect", "clip": true, "fill": "#fef2f2", "cornerRadius": 22},
      "encoding": {"x": {"field": "type", "type": "nominal", "axis": null, "scale": {"type": "band", "padding": 0, "range": [1824, 1936]}}, "y": {"field": "type", "type": "nominal", "axis": null, "scale": {"type": "band", "padding": 0, "range": [1791, 1835]}}}}
  ]
}
